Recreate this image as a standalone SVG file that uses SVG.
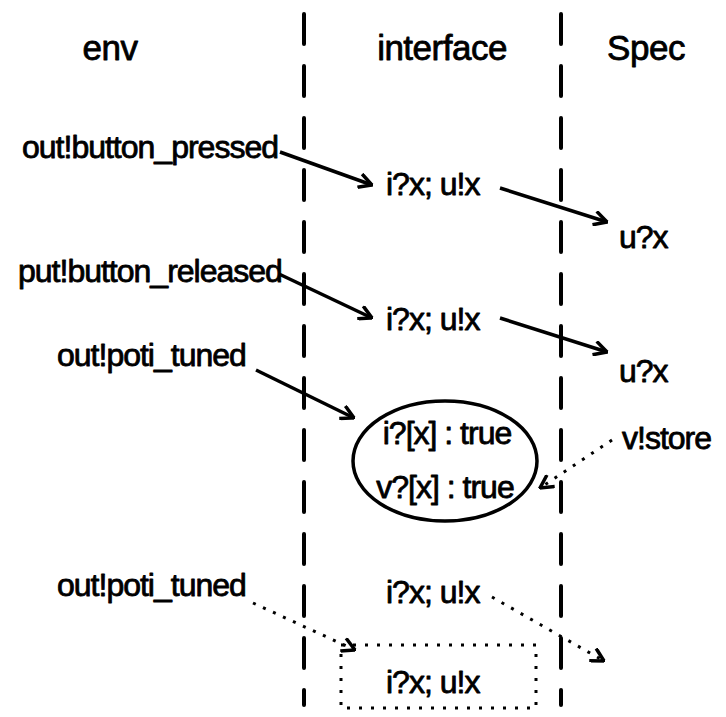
<svg xmlns="http://www.w3.org/2000/svg" width="726" height="717" viewBox="0 0 726 717">
  <style>
    text { font-family: "Liberation Sans", Arial, sans-serif; fill: #000; stroke: #000; stroke-width: 0.8; stroke-linejoin: round; }
    .hdr { font-size: 35px; letter-spacing: -0.5px; text-anchor: middle; }
    .lbl { font-size: 32px; letter-spacing: -1px; }
    .mid { text-anchor: middle; }
    .lane { stroke: #000; stroke-width: 4; stroke-dasharray: 30 22; stroke-linecap: round; fill: none; }
    .solid { stroke: #000; stroke-width: 3.5; fill: none; marker-end: url(#open); }
    .dot { stroke: #000; stroke-width: 3; stroke-dasharray: 3 8; fill: none; marker-end: url(#open); }
    .shape { stroke: #000; stroke-width: 3.5; fill: none; }
    .dotbox { stroke: #000; stroke-width: 3; stroke-dasharray: 3 9; fill: none; }
  </style>
  <defs>
    <marker id="open" viewBox="0 0 16 16" refX="15" refY="8" markerWidth="16" markerHeight="16" markerUnits="userSpaceOnUse" orient="auto">
      <path d="M2,1 L15,8 L2,15" fill="none" stroke="#000" stroke-width="3.5" stroke-linejoin="miter"/>
    </marker>
  </defs>

  <rect width="726" height="717" fill="#fff"/>

  <!-- swimlane separators -->
  <g id="lanes">
    <line class="lane" x1="304" y1="14" x2="304" y2="705"/>
    <line class="lane" x1="561" y1="14" x2="561" y2="705"/>
  </g>

  <!-- lane headers -->
  <g id="headers">
    <text class="hdr" x="110" y="60">env</text>
    <text class="hdr" x="442" y="60">interface</text>
    <text class="hdr" x="646" y="60">Spec</text>
  </g>

  <!-- row 1 -->
  <g id="env-pressed"><text class="lbl" x="22" y="158">out!button_pressed</text></g>
  <g id="if-1"><text class="lbl" x="386" y="195">i?x; u!x</text></g>
  <g id="spec-1"><text class="lbl" x="619" y="248">u?x</text></g>

  <!-- row 2 -->
  <g id="env-released"><text class="lbl" x="18" y="282">put!button_released</text></g>
  <g id="if-2"><text class="lbl" x="386" y="330">i?x; u!x</text></g>
  <g id="spec-2"><text class="lbl" x="619" y="382">u?x</text></g>

  <!-- row 3 -->
  <g id="env-poti-1"><text class="lbl" x="57" y="366">out!poti_tuned</text></g>
  <g id="if-ellipse">
    <ellipse class="shape" cx="445" cy="461" rx="92" ry="60"/>
    <text class="lbl mid" x="447" y="444">i?[x] : true</text>
    <text class="lbl mid" x="445" y="498">v?[x] : true</text>
  </g>
  <g id="spec-store"><text class="lbl" x="622" y="449">v!store</text></g>

  <!-- row 4 -->
  <g id="env-poti-2"><text class="lbl" x="57" y="596">out!poti_tuned</text></g>
  <g id="if-3"><text class="lbl" x="386" y="603">i?x; u!x</text></g>
  <g id="if-box">
    <rect class="dotbox" x="341" y="645" width="195" height="63"/>
    <text class="lbl" x="386" y="693">i?x; u!x</text>
  </g>

  <!-- connectors -->
  <g id="connectors">
    <line class="solid" x1="280" y1="152" x2="372" y2="185"/>
    <line class="solid" x1="500" y1="188" x2="607" y2="222"/>
    <line class="solid" x1="279" y1="274" x2="372" y2="318"/>
    <line class="solid" x1="500" y1="318" x2="607" y2="352"/>
    <line class="solid" x1="256" y1="370" x2="354" y2="418"/>
    <line class="dot" x1="612" y1="440" x2="540" y2="488"/>
    <line class="dot" x1="253" y1="603" x2="355" y2="650"/>
    <line class="dot" x1="492" y1="597" x2="604" y2="661"/>
  </g>
</svg>
